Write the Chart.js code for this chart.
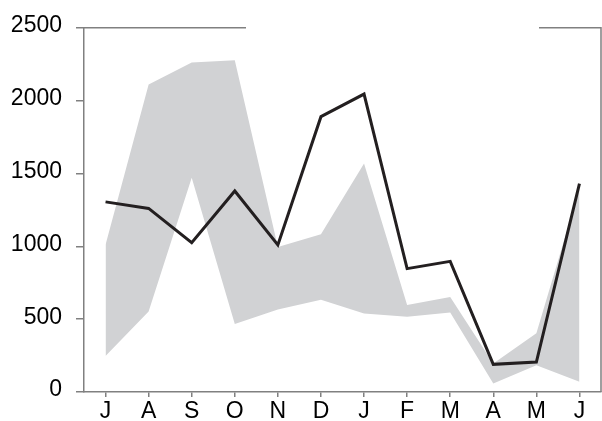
<!DOCTYPE html>
<html>
<head>
<meta charset="utf-8">
<script src="https://cdn.jsdelivr.net/npm/chart.js@4/dist/chart.umd.min.js"></script>
<style>
    html, body { margin: 0; padding: 0; background: #fff; }
    #wrap { width: 602px; height: 421px; position: relative; }
</style>
</head>
<body>
<div id="wrap"><canvas id="chart" width="602" height="421"></canvas></div>
<script>
// months, July to June
let months = ["J", "A", "S", "O", "N", "D", "J", "F", "M", "A", "M", "J"];
let current = [1305, 1260, 1025, 1380, 1010, 1890, 2045, 847, 897, 190, 206, 1430];
let rangeLow = [247, 552, 1470, 467, 566, 634, 539, 516, 546, 59, 183, 70];
let rangeHigh = [1010, 2110, 2262, 2278, 995, 1082, 1569, 598, 652, 195, 403, 1395];
let yTicks = [0, 500, 1000, 1500, 2000, 2500];

let axisColor = "#808080";

// frame: right side and top with a gap where the legend used to sit
let framePlugin = {
    id: "frame",
    afterDraw(chart) {
        let a = chart.chartArea;
        let ctx = chart.ctx;
        ctx.save();
        ctx.strokeStyle = axisColor;
        ctx.lineWidth = 1.5;
        ctx.beginPath();
        ctx.moveTo(a.left, a.top);
        ctx.lineTo(246, a.top);
        ctx.moveTo(539, a.top);
        ctx.lineTo(a.right, a.top);
        ctx.lineTo(a.right, a.bottom);
        ctx.stroke();
        ctx.restore();
    }
};

let ctx = document.getElementById("chart").getContext("2d");
new Chart(ctx, {
    type: "line",
    data: {
        labels: months,
        datasets: [
            {
                data: current,
                borderColor: "#231f20",
                borderWidth: 3,
                pointRadius: 0,
                tension: 0,
                fill: false
            },
            {
                data: rangeLow,
                borderWidth: 0,
                borderColor: "rgba(0,0,0,0)",
                pointRadius: 0,
                tension: 0,
                fill: false
            },
            {
                data: rangeHigh,
                borderWidth: 0,
                borderColor: "rgba(0,0,0,0)",
                backgroundColor: "#d1d2d4",
                pointRadius: 0,
                tension: 0,
                fill: "-1"
            }
        ]
    },
    options: {
        responsive: false,
        animation: false,
        devicePixelRatio: 1,
        layout: { padding: { top: 24, right: 1, left: 0, bottom: 0 } },
        plugins: {
            legend: { display: false },
            tooltip: { enabled: false }
        },
        scales: {
            x: {
                offset: true,
                afterFit: scale => { scale.height = 29; },
                grid: {
                    offset: false,
                    drawOnChartArea: false,
                    tickLength: 5,
                    color: axisColor,
                    lineWidth: 1.5
                },
                border: { color: axisColor, width: 1.5 },
                ticks: {
                    color: "#000",
                    padding: 1,
                    maxRotation: 0,
                    autoSkip: false,
                    font: { family: "Liberation Sans", size: 23 }
                }
            },
            y: {
                min: 0,
                max: 2500,
                afterFit: scale => { scale.width = 84; },
                afterBuildTicks: scale => { scale.ticks = yTicks.map(v => ({ value: v })); },
                grid: {
                    drawOnChartArea: false,
                    tickLength: 8,
                    color: axisColor,
                    lineWidth: 1.5
                },
                border: { color: axisColor, width: 1.5 },
                ticks: {
                    color: "#000",
                    padding: 14,
                    labelOffset: -2,
                    autoSkip: false,
                    callback: v => String(v),
                    font: { family: "Liberation Sans", size: 23 }
                }
            }
        }
    },
    plugins: [framePlugin]
});
</script>
</body>
</html>
